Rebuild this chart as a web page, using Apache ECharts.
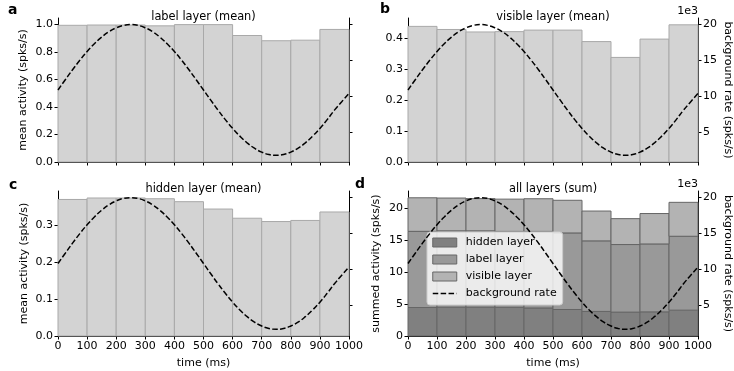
<!DOCTYPE html>
<html>
<head>
<meta charset="utf-8">
<script src="https://cdn.jsdelivr.net/npm/echarts@6/dist/echarts.min.js"></script>
<style>html,body{margin:0;padding:0;background:#fff}#c{width:734px;height:371px}</style>
</head>
<body>
<div id="c"></div>
<script>
// ---- data ----
const binStarts = [0, 100, 200, 300, 400, 500, 600, 700, 800, 900];
const binWidth = 100;
const labelMean   = [0.992, 0.994, 0.994, 0.988, 0.997, 0.997, 0.918, 0.880, 0.884, 0.962];
const visibleMean = [0.437, 0.427, 0.419, 0.420, 0.425, 0.425, 0.388, 0.337, 0.396, 0.442];
const hiddenMean  = [0.371, 0.375, 0.375, 0.373, 0.365, 0.345, 0.320, 0.311, 0.314, 0.337];
const hiddenSum   = [4.45, 4.50, 4.50, 4.48, 4.38, 4.14, 3.84, 3.73, 3.77, 4.04];
const labelSum    = [11.90, 11.93, 11.93, 11.86, 11.96, 11.96, 11.02, 10.56, 10.61, 11.54];
const visibleSum  = [5.24, 5.12, 5.03, 5.04, 5.10, 5.10, 4.66, 4.04, 4.75, 5.30];
const bgTime = [0,25,50,75,100,125,150,175,200,225,250,275,300,325,350,375,400,425,450,475,500,525,550,575,600,625,650,675,700,725,750,775,800,825,850,875,900,925,950,975,1000];
const bgRate = [10.83,12.25,13.64,14.96,16.18,17.26,18.19,18.94,19.48,19.82,19.93,19.82,19.48,18.94,18.19,17.26,16.18,14.96,13.64,12.25,10.83,9.41,8.02,6.70,5.48,4.40,3.47,2.72,2.18,1.84,1.73,1.84,2.18,2.72,3.47,4.40,5.48,6.70,8.02,9.20,10.35]; // x1e3 spks/s
const xTicks = [0,100,200,300,400,500,600,700,800,900,1000];
const leftTicksA = [0, 0.2, 0.4, 0.6, 0.8, 1.0];
const leftTicksB = [0, 0.1, 0.2, 0.3, 0.4];
const leftTicksC = [0, 0.1, 0.2, 0.3];
const leftTicksD = [0, 5, 10, 15, 20];
const rightTicks = [5, 10, 15, 20];

// ---- styles ----
const FONT = 'DejaVu Sans';
const grids = [
  {left: 58, top: 18, width: 291, height: 144},
  {left: 408, top: 18, width: 290, height: 144},
  {left: 58, top: 191, width: 291, height: 145},
  {left: 408, top: 191, width: 290, height: 145}
];
const axisLine = {show: true, lineStyle: {color: '#000', width: 1}};
const axisTickBase = {show: true, inside: false, length: 3.5, lineStyle: {color: '#000', width: 1}};

function xAx(i, showLabels) {
  return {
    type: 'value', gridIndex: i, min: 0, max: 1000,
    axisLine: axisLine, splitLine: {show: false},
    axisTick: Object.assign({}, axisTickBase, {customValues: xTicks}),
    axisLabel: {show: showLabels, customValues: xTicks, color: '#000', fontFamily: FONT, fontSize: 11, margin: 5,
      formatter: v => String(Math.round(v))},
    name: showLabels ? 'time (ms)' : '', nameLocation: 'middle', nameGap: 22,
    nameTextStyle: {color: '#000', fontFamily: FONT, fontSize: 11}
  };
}
function leftAx(i, max, ticks, dec, name, gap) {
  return {
    type: 'value', gridIndex: i, position: 'left', min: 0, max: max,
    axisLine: axisLine, splitLine: {show: false},
    axisTick: Object.assign({}, axisTickBase, {customValues: ticks}),
    axisLabel: {customValues: ticks, color: '#000', fontFamily: FONT, fontSize: 11, margin: 5,
      formatter: v => dec ? v.toFixed(1) : String(Math.round(v))},
    name: name, nameLocation: 'middle', nameGap: gap, nameRotate: 90,
    nameTextStyle: {color: '#000', fontFamily: FONT, fontSize: 11}
  };
}
function rightAx(i, showLabels) {
  return {
    type: 'value', gridIndex: i, position: 'right', min: 0.8, max: 20.85,
    axisLine: axisLine, splitLine: {show: false},
    axisTick: Object.assign({}, axisTickBase, {customValues: rightTicks}),
    axisLabel: {show: showLabels, customValues: rightTicks, color: '#000', fontFamily: FONT, fontSize: 11, margin: 5},
    name: showLabels ? 'background rate (spks/s)' : '', nameLocation: 'middle', nameGap: 24, nameRotate: -90,
    nameTextStyle: {color: '#000', fontFamily: FONT, fontSize: 11}
  };
}

function barRender(fill, stroke) {
  return function (params, api) {
    const x0 = api.value(0), top = api.value(1), base = api.value(2);
    const p0 = api.coord([x0, top]);
    const p1 = api.coord([x0 + binWidth, base]);
    return {
      type: 'rect',
      shape: {x: p0[0], y: p0[1], width: p1[0] - p0[0], height: p1[1] - p0[1]},
      style: {fill: fill, stroke: stroke, lineWidth: 1}
    };
  };
}
function barSeries(name, xi, yi, tops, bases, fill, stroke) {
  return {
    type: 'custom', name: name, xAxisIndex: xi, yAxisIndex: yi,
    renderItem: barRender(fill, stroke),
    encode: {x: 0, y: [1, 2]},
    data: binStarts.map((b, k) => [b, tops[k], bases ? bases[k] : 0]),
    z: 2, silent: true
  };
}
const dash = [5.5, 2.4];
function bgSeries(name, xi, yi) {
  return {
    type: 'line', name: name, xAxisIndex: xi, yAxisIndex: yi,
    data: bgTime.map((t, k) => [t, bgRate[k]]),
    smooth: true, showSymbol: false, symbol: 'none',
    lineStyle: {color: '#000', width: 1.5, type: dash},
    itemStyle: {color: '#000'},
    z: 5, silent: true, animation: false
  };
}

const hidTop = hiddenSum.map((v, k) => v);
const labTop = labelSum.map((v, k) => hiddenSum[k] + v);
const visTop = visibleSum.map((v, k) => hiddenSum[k] + labelSum[k] + v);

const COL_H = '#808080', COL_L = '#999999', COL_V = '#b3b3b3', EDGE_D = '#666666';

const txt = (text, x, y, size, align, bold) => ({
  type: 'text', x: x, y: y, z: 100,
  style: {text: text, fill: '#000', font: (bold ? 'bold ' : '') + size + 'px "' + FONT + '"',
    textAlign: align, textVerticalAlign: 'middle'}
});

const option = {
  animation: false,
  grid: grids,
  xAxis: [xAx(0, false), xAx(1, false), xAx(2, true), xAx(3, true)],
  yAxis: [
    leftAx(0, 1.045, leftTicksA, true, 'mean activity (spks/s)', 29), rightAx(0, false),
    leftAx(1, 0.464, leftTicksB, true, '', 0), rightAx(1, true),
    leftAx(2, 0.394, leftTicksC, true, 'mean activity (spks/s)', 28), rightAx(2, false),
    leftAx(3, 22.65, leftTicksD, false, 'summed activity (spks/s)', 26), rightAx(3, true)
  ],
  legend: {
    show: true, orient: 'vertical', left: 427, top: 232,
    padding: [4, 6, 5, 5], itemGap: 4, itemWidth: 24, itemHeight: 9,
    backgroundColor: 'rgba(255,255,255,0.8)', borderColor: '#cccccc', borderWidth: 1, borderRadius: 3,
    textStyle: {color: '#000', fontFamily: FONT, fontSize: 11, lineHeight: 13, padding: [0, 0, 0, 4]},
    selectedMode: false,
    data: [
      {name: 'hidden layer', icon: 'rect', itemStyle: {color: COL_H, borderColor: EDGE_D, borderWidth: 1}},
      {name: 'label layer', icon: 'rect', itemStyle: {color: COL_L, borderColor: EDGE_D, borderWidth: 1}},
      {name: 'visible layer', icon: 'rect', itemStyle: {color: COL_V, borderColor: EDGE_D, borderWidth: 1}},
      {name: 'background rate', itemStyle: {opacity: 0, color: 'rgba(0,0,0,0)', borderWidth: 0},
        lineStyle: {color: '#000', width: 1.5, type: dash, opacity: 1}}
    ]
  },
  graphic: [
    txt('a', 8, 10, 14, 'left', true),
    txt('b', 380, 9, 14, 'left', true),
    txt('c', 9, 185, 14, 'left', true),
    txt('d', 355, 184, 14, 'left', true),
    txt('label layer (mean)', 203.5, 17, 11.4, 'center'),
    txt('visible layer (mean)', 553, 17, 11.4, 'center'),
    txt('hidden layer (mean)', 203.5, 189, 11.4, 'center'),
    txt('all layers (sum)', 553, 189, 11.4, 'center'),
    txt('1e3', 698, 11, 11, 'right'),
    txt('1e3', 698, 184, 11, 'right')
  ],
  series: [
    barSeries('a-bars', 0, 0, labelMean, null, '#d3d3d3', '#a9a9a9'),
    bgSeries('bg-a', 0, 1),
    barSeries('b-bars', 1, 2, visibleMean, null, '#d3d3d3', '#a9a9a9'),
    bgSeries('bg-b', 1, 3),
    barSeries('c-bars', 2, 4, hiddenMean, null, '#d3d3d3', '#a9a9a9'),
    bgSeries('bg-c', 2, 5),
    barSeries('hidden layer', 3, 6, hidTop, null, COL_H, EDGE_D),
    barSeries('label layer', 3, 6, labTop, hidTop, COL_L, EDGE_D),
    barSeries('visible layer', 3, 6, visTop, labTop, COL_V, EDGE_D),
    bgSeries('background rate', 3, 7)
  ]
};
const chart = echarts.init(document.getElementById('c'), null, {renderer: 'canvas'});
chart.setOption(option);
</script>
</body>
</html>
